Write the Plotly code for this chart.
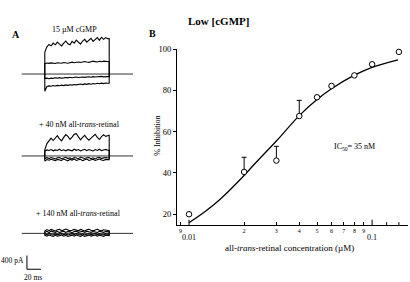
import math
import plotly.graph_objects as go

W, H = 410, 282
FONT = "Liberation Serif"

# ---------------- Panel B data ----------------
CONC_UM = [0.01, 0.02, 0.03, 0.04, 0.05, 0.06, 0.08, 0.1, 0.14]
INHIBITION = [20.0, 40.5, 46.0, 67.6, 76.7, 82.2, 87.3, 92.7, 98.7]
ERR_CONC = [0.02, 0.03, 0.04]
ERR_MEAN = [40.5, 46.0, 67.6]
ERR_UP = [7.1, 6.9, 7.6]
FIT_CONC = [0.01, 0.0122, 0.0148, 0.02, 0.023, 0.03, 0.04, 0.05, 0.06, 0.08, 0.1, 0.1385]
FIT_INHIB = [15.9, 21.2, 27.3, 38.8, 44.7, 55.5, 67.8, 75.6, 80.8, 87.4, 91.2, 94.8]
X_TICKVALS = [0.009, 0.02, 0.03, 0.04, 0.05, 0.06, 0.07, 0.08, 0.09]
X_TICKTEXT = ["9", "2", "3", "4", "5", "6", "7", "8", "9"]
DECADES = [0.01, 0.1]
EXTRA_TICKS = [0.12, 0.14]
Y_TICKS = [20, 40, 60, 80, 100]

# ---------------- Panel A data (current traces, pA relative to baseline) ----------------
T_MS = list(range(64, 157, 3))          # sample times during the step (ms)
T_OFF = 156
BASE_START, BASE_END = 31, 190

G1 = [
    [640, 790, 860, 820, 900, 850, 930, 870, 820, 900, 960, 880, 850, 950, 900, 990,
     920, 870, 960, 1010, 930, 990, 1040, 950, 1000, 1060, 980, 1070, 1010, 1060, 1030],
    [300, 320, 310, 325, 315, 305, 330, 320, 315, 335, 325, 315, 330, 345, 330, 340,
     350, 335, 345, 365, 350, 340, 360, 375, 360, 350, 370, 360, 375, 370, 360],
    [-130, -120, -135, -118, -125, -110, -120, -105, -120, -112, -100, -112, -95, -108, -98, -88,
     -100, -90, -85, -98, -85, -80, -92, -75, -88, -80, -75, -68, -82, -70, -75],
    [-500, -360, -345, -355, -335, -348, -330, -342, -322, -335, -315, -330, -310, -322, -305, -315,
     -298, -292, -308, -288, -300, -280, -295, -275, -290, -270, -282, -265, -278, -262, -270],
]
G2 = [
    [180, 360, 460, 520, 450, 530, 590, 500, 440, 540, 620, 570, 480, 550, 630, 650,
     560, 470, 540, 600, 520, 460, 520, 580, 630, 540, 480, 560, 620, 570, 600],
    [140, 175, 160, 185, 150, 175, 160, 195, 155, 180, 150, 185, 165, 150, 195, 165,
     185, 145, 175, 195, 155, 185, 165, 145, 185, 160, 195, 155, 175, 190, 165],
    [-80, -50, -75, -45, -65, -85, -50, -45, -80, -55, -40, -75, -55, -85, -45, -60,
     -80, -40, -65, -75, -50, -45, -80, -55, -85, -50, -40, -75, -55, -45, -60],
    [-150, -105, -125, -95, -115, -135, -100, -120, -130, -90, -115, -140, -100, -120, -90, -130,
     -110, -95, -135, -110, -90, -130, -115, -95, -130, -110, -90, -115, -130, -100, -110],
]
G3 = [
    [70, 110, 80, 115, 95, 70, 105, 120, 75, 95, 125, 100, 75, 90, 115, 100,
     75, 115, 90, 70, 105, 120, 90, 75, 100, 120, 90, 75, 105, 95, 80],
    [30, 60, 25, 65, 45, 30, 60, 25, 45, 65, 30, 55, 45, 20, 55, 65,
     30, 45, 60, 30, 65, 45, 30, 55, 45, 25, 60, 45, 30, 55, 45],
    [-15, -40, -5, -30, -45, -15, -35, -25, -5, -40, -15, -45, -25, -10, -35, -5,
     -30, -40, -15, -45, -25, -10, -35, -25, -5, -40, -15, -30, -40, -15, -25],
    [-55, -80, -45, -70, -90, -55, -80, -65, -45, -80, -55, -90, -65, -50, -80, -45,
     -70, -85, -55, -90, -65, -50, -80, -65, -45, -80, -55, -70, -85, -55, -65],
]
GROUP_BASE_PA = [6049, 3666, 1414]
SCALE_PA, SCALE_MS = 400, 20

# ---------------- layout helpers ----------------
PX_PER_MS = 0.7
PX_PER_PA = 0.035
A_W = 150


def px(x):
    return x / W


def py(y):
    return 1 - y / H


fig = go.Figure()

# Panel A traces
for base, group in zip(GROUP_BASE_PA, [G1, G2, G3]):
    fig.add_trace(go.Scatter(x=[BASE_START, BASE_END], y=[base, base], mode="lines",
                             line=dict(color="#333", width=1), xaxis="x2", yaxis="y2",
                             showlegend=False, hoverinfo="skip"))
    for vals in group:
        xs = [T_MS[0]] + T_MS + [T_OFF, T_OFF]
        ys = [base] + [base + v for v in vals] + [base + vals[-1], base]
        fig.add_trace(go.Scatter(x=xs, y=ys, mode="lines",
                                 line=dict(color="black", width=1.1), xaxis="x2", yaxis="y2",
                                 showlegend=False, hoverinfo="skip"))

# scale bar
sb_x0 = 38.5
sb_y0 = 371
fig.add_trace(go.Scatter(x=[sb_x0, sb_x0, sb_x0 + SCALE_MS], y=[sb_y0 + SCALE_PA, sb_y0, sb_y0],
                         mode="lines", line=dict(color="black", width=1),
                         xaxis="x2", yaxis="y2", showlegend=False, hoverinfo="skip"))

# Panel B
fig.add_trace(go.Scatter(x=FIT_CONC, y=FIT_INHIB, mode="lines", line=dict(color="black", width=1.3, shape="spline"),
                         showlegend=False, cliponaxis=False))
fig.add_trace(go.Scatter(x=ERR_CONC, y=ERR_MEAN, mode="markers", marker=dict(size=1, color="black"),
                         error_y=dict(type="data", symmetric=False, array=ERR_UP, arrayminus=[0] * len(ERR_UP),
                                      color="black", thickness=1, width=2.5),
                         showlegend=False))
fig.add_trace(go.Scatter(x=CONC_UM, y=INHIBITION, mode="markers",
                         marker=dict(symbol="circle", size=5.5, color="white", line=dict(color="black", width=1)),
                         showlegend=False, cliponaxis=False))
# decade ticks (longer) and extra short ticks, drawn inside the axis
ymin = 14.76
tk_x, tk_y = [], []
for d in DECADES:
    tk_x += [d, d, None]
    tk_y += [ymin, ymin + 2.6, None]
for d in EXTRA_TICKS:
    tk_x += [d, d, None]
    tk_y += [ymin, ymin + 1.4, None]
fig.add_trace(go.Scatter(x=tk_x, y=tk_y, mode="lines", line=dict(color="black", width=1),
                         showlegend=False, hoverinfo="skip", cliponaxis=False))

xlo = math.log10(0.0086)
xhi = math.log10(0.157)

fig.update_layout(
    width=W, height=H, margin=dict(l=0, r=0, t=0, b=0),
    paper_bgcolor="white", plot_bgcolor="white",
    font=dict(family=FONT, color="black", size=8),
    xaxis=dict(type="log", domain=[px(177), px(408)], range=[xlo, xhi], anchor="y",
               showline=True, linecolor="black", linewidth=1, showgrid=False, zeroline=False,
               ticks="inside", ticklen=3, tickcolor="black", tickwidth=1,
               tickvals=X_TICKVALS, ticktext=X_TICKTEXT, tickfont=dict(size=6, family=FONT)),
    yaxis=dict(domain=[py(224), py(45)], range=[ymin, 100], anchor="x",
               showline=True, linecolor="black", linewidth=1, showgrid=False, zeroline=False,
               ticks="outside", ticklen=3, tickcolor="black", tickwidth=1,
               tickvals=Y_TICKS, tickfont=dict(size=8.5, family=FONT)),
    xaxis2=dict(domain=[0, px(A_W)], range=[0, A_W / PX_PER_MS], anchor="y2", visible=False),
    yaxis2=dict(domain=[0, 1], range=[0, H / PX_PER_PA], anchor="x2", visible=False),
)

ann = [
    dict(text="<b>Low [cGMP]</b>", x=px(218), y=py(16), size=11),
    dict(text="<b>A</b>", x=px(16), y=py(30), size=10),
    dict(text="<b>B</b>", x=px(152), y=py(29), size=10),
    dict(text="15 µM cGMP", x=px(74), y=py(25), size=8),
    dict(text="+ 40 nM all-<i>trans</i>-retinal", x=px(79), y=py(122), size=8),
    dict(text="+ 140 nM all-<i>trans</i>-retinal", x=px(78), y=py(212), size=8),
    dict(text="400 pA", x=px(12), y=py(260), size=7.5),
    dict(text="20 ms", x=px(33), y=py(277), size=7.5),
    dict(text="IC<sub>50</sub>= 35 nM", x=px(354), y=py(145), size=8),
    dict(text="all-<i>trans</i>-retinal concentration (µM)", x=px(289), y=py(247), size=9),
]
annotations = []
for a in ann:
    annotations.append(dict(text=a["text"], x=a["x"], y=a["y"], xref="paper", yref="paper",
                            showarrow=False, xanchor="center", yanchor="middle",
                            font=dict(size=a["size"], family=FONT, color="black")))
annotations.append(dict(text="% Inhibition", x=px(158), y=py(133), xref="paper", yref="paper",
                        showarrow=False, textangle=-90, xanchor="center", yanchor="middle",
                        font=dict(size=8, family=FONT, color="black")))
annotations.append(dict(text="0.01", x=math.log10(0.01), y=py(236.5), xref="x", yref="paper",
                        showarrow=False, xanchor="center", yanchor="middle",
                        font=dict(size=8, family=FONT, color="black")))
annotations.append(dict(text="0.1", x=math.log10(0.1), y=py(236.5), xref="x", yref="paper",
                        showarrow=False, xanchor="center", yanchor="middle",
                        font=dict(size=8, family=FONT, color="black")))
fig.update_layout(annotations=annotations)

fig.write_html("out.html", config={"displayModeBar": False},
               post_script="document.body.style.margin='0';document.body.style.padding='0';")
